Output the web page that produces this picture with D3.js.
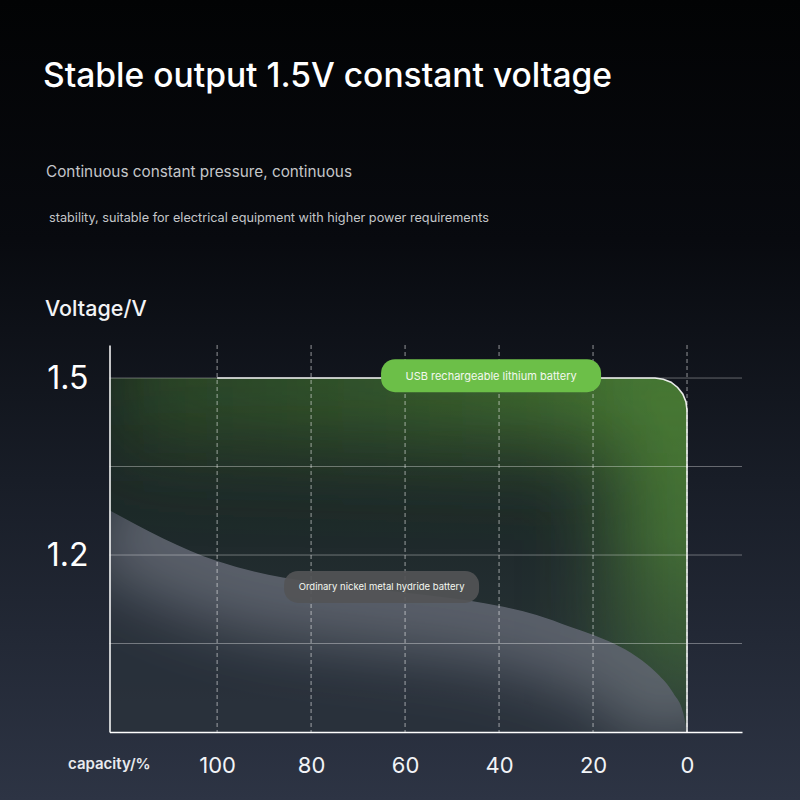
<!DOCTYPE html>
<html>
<head>
<meta charset="utf-8">
<script src="https://cdn.jsdelivr.net/npm/d3@7"></script>
<style>
  body { margin: 0; background: #000; }
  svg { display: block; font-family: Inter, "Noto Sans", sans-serif; }
</style>
</head>
<body>
<svg id="chart" width="800" height="800"></svg>
<script>
// values
var capacityTicks = [100, 80, 60, 40, 20, 0];
var voltageTicks = [1.5, 1.2];
var gridVoltages = [1.5, 1.35, 1.2, 1.05];

var lithiumCapacity = [122.9, 100, 6.81, 5.05, 3.4, 1.99, 0.91, 0.23, 0, 0];
var lithiumVoltage = [1.5, 1.5, 1.5, 1.498, 1.493, 1.484, 1.473, 1.46, 1.446, 0.9];

var nimhCapacity = [122.9, 100, 86, 80, 60, 46.2, 39.9, 32, 24.9, 19.9, 15.7, 10.7, 6.4, 2.9, 0.8, 0];
var nimhVoltage = [1.276, 1.19, 1.162, 1.155, 1.136, 1.1225, 1.1136, 1.0983, 1.0785, 1.0644, 1.0503, 1.0276, 0.9995, 0.9656, 0.9317, 0.9];

var seriesNames = ["USB rechargeable lithium battery", "Ordinary nickel metal hydride battery"];
var labelCapacity = [41.7, 65.0];
var labelVoltage = [1.504, 1.146];

var svg = d3.select("#chart");
var W = 800, H = 800;
var defs = svg.append("defs");

// background
var bg = defs.append("linearGradient").attr("id", "bg").attr("x1", 0).attr("y1", 0).attr("x2", 0).attr("y2", 1);
bg.append("stop").attr("offset", 0).attr("stop-color", "#020304");
bg.append("stop").attr("offset", 0.3).attr("stop-color", "#080a0f");
bg.append("stop").attr("offset", 0.6).attr("stop-color", "#181d27");
bg.append("stop").attr("offset", 1).attr("stop-color", "#2d3444");
svg.append("rect").attr("width", W).attr("height", H).attr("fill", "url(#bg)");

var x = d3.scaleLinear().domain([122.9, -11.7]).range([109.5, 742]);
var y = d3.scaleLinear().domain([0.9, 1.556]).range([732, 345]);

var lithium = lithiumCapacity.map(function (c, i) { return [c, lithiumVoltage[i]]; });
var nimh = nimhCapacity.map(function (c, i) { return [c, nimhVoltage[i]]; });

var liLine = d3.line().x(function (d) { return x(d[0]); }).y(function (d) { return y(d[1]); });
var nimhLine = d3.line().x(function (d) { return x(d[0]); }).y(function (d) { return y(d[1]); }).curve(d3.curveMonotoneX);
var nimhArea = d3.area().x(function (d) { return x(d[0]); }).y0(y(0.9)).y1(function (d) { return y(d[1]); }).curve(d3.curveMonotoneX);

var liPath = liLine(lithium);
var liAreaPath = liPath + "L" + x(lithiumCapacity[0]) + "," + y(0.9) + "Z";

defs.append("clipPath").attr("id", "liClip").append("path").attr("d", liAreaPath);
defs.append("clipPath").attr("id", "niClip").append("path").attr("d", nimhArea(nimh));

var blurG = defs.append("filter").attr("id", "blurG").attr("x", -0.5).attr("y", -0.5).attr("width", 2).attr("height", 2);
blurG.append("feGaussianBlur").attr("stdDeviation", 42);
var blurN = defs.append("filter").attr("id", "blurN").attr("x", -0.5).attr("y", -0.5).attr("width", 2).attr("height", 2);
blurN.append("feGaussianBlur").attr("stdDeviation", 30);

var gGlow = defs.append("linearGradient").attr("id", "gGlow").attr("gradientUnits", "userSpaceOnUse")
  .attr("x1", x(122.9)).attr("y1", 0).attr("x2", x(0)).attr("y2", 0);
gGlow.append("stop").attr("offset", 0).attr("stop-color", "#4f8a35").attr("stop-opacity", 0.32);
gGlow.append("stop").attr("offset", 0.6).attr("stop-color", "#5a9c3a").attr("stop-opacity", 0.5);
gGlow.append("stop").attr("offset", 1).attr("stop-color", "#62a83e").attr("stop-opacity", 0.7);

// fade the green towards the bottom
var fade = defs.append("linearGradient").attr("id", "fade").attr("gradientUnits", "userSpaceOnUse")
  .attr("x1", 0).attr("y1", y(1.5)).attr("x2", 0).attr("y2", y(0.9));
fade.append("stop").attr("offset", 0).attr("stop-color", "#ffffff");
fade.append("stop").attr("offset", 0.45).attr("stop-color", "#d0d0d0");
fade.append("stop").attr("offset", 1).attr("stop-color", "#404040");
defs.append("mask").attr("id", "fadeMask").attr("maskUnits", "userSpaceOnUse")
  .attr("x", 0).attr("y", 0).attr("width", W).attr("height", H)
  .append("rect").attr("width", W).attr("height", H).attr("fill", "url(#fade)");

// lithium area
var li = svg.append("g").attr("clip-path", "url(#liClip)");
li.append("path").attr("d", liAreaPath).attr("fill", "#3c6a2c").attr("fill-opacity", 0.12);
li.append("g").attr("mask", "url(#fadeMask)")
  .append("path").attr("d", liPath).attr("fill", "none").attr("stroke", "url(#gGlow)")
  .attr("stroke-width", 150).attr("filter", "url(#blurG)");

// nimh area
var ni = svg.append("g").attr("clip-path", "url(#niClip)");
ni.append("path").attr("d", nimhArea(nimh)).attr("fill", "#2a303c").attr("fill-opacity", 0.75);
ni.append("path").attr("d", nimhLine(nimh)).attr("fill", "none").attr("stroke", "#8b9099")
  .attr("stroke-opacity", 0.5).attr("stroke-width", 120).attr("filter", "url(#blurN)");

// grid
svg.append("g").selectAll("line").data(gridVoltages).join("line")
  .attr("x1", x.range()[0]).attr("x2", x.range()[1])
  .attr("y1", function (d) { return y(d); }).attr("y2", function (d) { return y(d); })
  .attr("stroke", "#ffffff").attr("stroke-opacity", 0.35).attr("stroke-width", 1);
svg.append("g").selectAll("line").data(capacityTicks).join("line")
  .attr("x1", function (d) { return x(d); }).attr("x2", function (d) { return x(d); })
  .attr("y1", y.range()[1]).attr("y2", y.range()[0])
  .attr("stroke", "#ffffff").attr("stroke-opacity", 0.55).attr("stroke-width", 1)
  .attr("stroke-dasharray", "4,3");

// lithium outline
svg.append("path").attr("d", liLine(lithium.slice(1))).attr("fill", "none")
  .attr("stroke", "#ffffff").attr("stroke-opacity", 0.9).attr("stroke-width", 1.6);

// axes
var xAxis = svg.append("g").attr("transform", "translate(0," + y(0.9) + ")")
  .call(d3.axisBottom(x).tickValues(capacityTicks).tickSize(0).tickSizeOuter(0).tickPadding(25));
xAxis.select(".domain").attr("stroke", "#ffffff").attr("stroke-width", 1.5);
xAxis.selectAll("text").attr("fill", "#f2f4f7").attr("font-size", 22).attr("font-family", "Inter, sans-serif");

var yAxis = svg.append("g").attr("transform", "translate(" + x.range()[0] + ",0)")
  .call(d3.axisLeft(y).tickValues(voltageTicks).tickFormat(d3.format(".1f")).tickSize(0).tickSizeOuter(0).tickPadding(21));
yAxis.select(".domain").attr("stroke", "#ffffff").attr("stroke-width", 1.5);
yAxis.selectAll("text").attr("fill", "#ffffff").attr("font-size", 32).attr("font-family", "Inter, sans-serif");

// series labels
var pillW = [220, 195], pillH = [33, 32];
var pillFill = ["#6cbf48", "#525456"], pillOpacity = [1, 0.92];
var pillFont = [11, 9.5];
var labels = svg.append("g").selectAll("g").data(seriesNames).join("g")
  .attr("transform", function (d, i) { return "translate(" + x(labelCapacity[i]) + "," + y(labelVoltage[i]) + ")"; });
labels.append("rect")
  .attr("x", function (d, i) { return -pillW[i] / 2; }).attr("y", function (d, i) { return -pillH[i] / 2; })
  .attr("width", function (d, i) { return pillW[i]; }).attr("height", function (d, i) { return pillH[i]; })
  .attr("rx", 14).attr("fill", function (d, i) { return pillFill[i]; })
  .attr("fill-opacity", function (d, i) { return pillOpacity[i]; });
labels.append("text").attr("text-anchor", "middle").attr("dy", "0.35em")
  .attr("fill", "#f4f8f0").attr("font-size", function (d, i) { return pillFont[i]; })
  .text(function (d) { return d; });

// titles
svg.append("text").attr("x", 43).attr("y", 87).attr("fill", "#ffffff").attr("font-size", 33.6)
  .attr("font-weight", 500).text("Stable output 1.5V constant voltage");
svg.append("text").attr("x", 46).attr("y", 177).attr("fill", "#c4c6c9").attr("font-size", 15.3)
  .text("Continuous constant pressure, continuous");
svg.append("text").attr("x", 49).attr("y", 222).attr("fill", "#c4c6c9").attr("font-size", 12.7)
  .text("stability, suitable for electrical equipment with higher power requirements");
svg.append("text").attr("x", 45).attr("y", 316).attr("fill", "#f2f3f5").attr("font-size", 21.5)
  .attr("font-weight", 500).text("Voltage/V");
svg.append("text").attr("x", 68).attr("y", 769).attr("fill", "#e8eaee").attr("font-size", 15)
  .attr("font-weight", 600).text("capacity/%");
</script>
</body>
</html>
